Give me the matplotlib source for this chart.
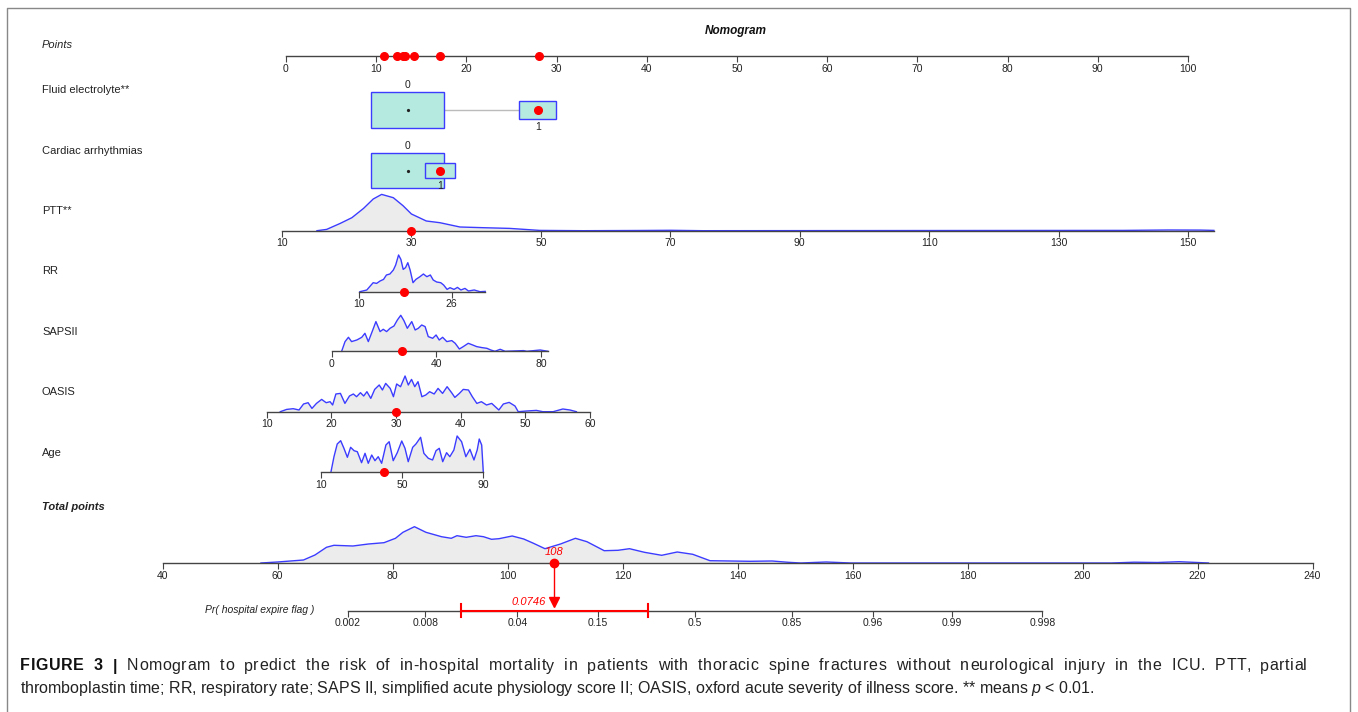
import numpy as np
import matplotlib.pyplot as plt
from matplotlib.patches import Rectangle
from matplotlib.ticker import NullLocator

plt.rcParams['font.family'] = ['Liberation Sans', 'DejaVu Sans']
plt.rcParams['mathtext.fontset'] = 'custom'
plt.rcParams['mathtext.it'] = 'Liberation Sans:italic'
plt.rcParams['mathtext.rm'] = 'Liberation Sans'

W, H = 1358, 712

# ---------------- data ----------------
points_ticks = list(range(0, 101, 10))
# points of the example patient: Age, OASIS, SAPSII, RR, PTT, Cardiac, Fluid
patient_points = [10.9, 12.3, 13.0, 13.2, 14.2, 17.1, 28.0]

fluid_levels = ['0', '1']
fluid_pts = [13.5, 27.9]
fluid_freq = [0.80, 0.20]

cardiac_levels = ['0', '1']
cardiac_pts = [13.5, 17.1]
cardiac_freq = [0.857, 0.143]

ptt_ticks = [10, 30, 50, 70, 90, 110, 130, 150]
ptt_x = [15.4, 16.9, 19.0, 20.8, 22.6, 24.1, 25.4, 27.2, 28.7, 30.0, 32.3, 34.4,
         37.5, 41.1, 45.2, 49.8, 56.5, 65, 70, 75, 140, 147, 152, 154]
ptt_d = [0, 1.3, 7.3, 13, 22.3, 31.7, 36.3, 33, 25, 16.7, 9.7, 8,
         3.7, 3, 2.3, 0.3, 0, 0.2, 0.4, 0, 0.3, 0.7, 0.6, 0.3]
ptt_value = 30

rr_ticks = [10, 26]
rr_x = [10.1, 11.3, 11.9, 12.4, 13.0, 13.6, 14.2, 14.7, 15.3, 15.9, 16.3, 16.8,
        17.2, 17.6, 18.0, 18.4, 18.8, 19.3, 19.8, 20.5, 21.1, 21.7, 22.3, 22.8,
        23.4, 24.1, 24.6, 25.2, 25.7, 26.4, 27.0, 27.6, 28.3, 28.9, 29.9, 30.9, 31.8]
rr_d = [0, 1.7, 5.7, 9, 8.3, 10.7, 12.3, 16.7, 17.7, 21.7, 26.7, 36.7,
        32.3, 22.3, 24, 29, 21.7, 9, 12.3, 15, 17.7, 15, 16.7, 11.7,
        9.7, 9, 6.7, 2.3, 4, 2.3, 4.3, 1.7, 3.3, 0.7, 1.7, 0, 0.3]
rr_value = 17.8

saps_ticks = [0, 40, 80]
saps_x = [3.8, 5.1, 6.4, 7.6, 9.6, 11.5, 12.7, 14.0, 15.7, 16.9, 18.5, 19.7, 21.0,
          22.3, 23.8, 25.1, 26.4, 27.6, 28.9, 30.6, 31.9, 33.1, 34.4, 35.7, 36.9,
          38.6, 39.9, 41.1, 42.4, 44.0, 45.9, 47.2, 48.8, 50.3, 52.2, 53.9, 55.4,
          57.4, 59.3, 60.8, 62.4, 64.4, 66.3, 73.3, 74.6, 79.7, 82.6]
saps_d = [0, 9.7, 14, 9.7, 11.3, 14, 18, 9.7, 21.3, 29.7, 19.7, 22, 19.7,
          23, 25.3, 31.3, 36, 30.7, 23, 29.7, 21.3, 23, 26.3, 24.7, 14.7,
          13, 16.3, 11.3, 14, 9.7, 10.7, 8, 2.3, 4.7, 8, 6.3, 4.7,
          3.7, 3, 1.3, 0, 2, 0, 0.7, 0, 1.3, 0]
saps_value = 26.9

oasis_ticks = [10, 20, 30, 40, 50, 60]
oasis_x = [12.1, 13.1, 14.1, 15.0, 15.7, 16.4, 17.0, 17.7, 18.5, 19.2, 19.8, 20.2,
           20.7, 21.4, 22.1, 22.8, 23.4, 23.9, 24.5, 25.0, 25.5, 26.1, 26.7, 27.4,
           27.9, 28.4, 29.1, 29.6, 30.1, 30.7, 31.4, 31.9, 32.4, 32.9, 33.4, 34.0,
           34.6, 35.2, 35.9, 36.5, 37.2, 37.9, 38.6, 39.1, 39.8, 40.4, 41.2, 41.8,
           42.5, 43.2, 44.0, 44.8, 45.9, 46.6, 47.5, 48.4, 48.9, 50.2, 51.7, 52.7,
           54.3, 55.8, 56.9, 57.9]
oasis_d = [0, 2.3, 3, 1.7, 7.7, 9, 3.3, 8.3, 12.3, 9, 10, 6.7,
           17.7, 18.3, 8.3, 15.7, 17.7, 15, 19, 15.7, 20, 13.3, 22.3, 26.7,
           21.7, 28.3, 23.3, 15, 27.7, 25, 35.7, 26.7, 32.3, 25, 30, 15,
           16.7, 20, 17.7, 23.3, 18.3, 25, 19, 14.3, 18.3, 22.3, 21.7, 15,
           8.3, 10, 6.7, 8.3, 1.7, 7.7, 9.3, 5.7, 0, 0.7, 1.3, 0,
           0, 2.7, 1.7, 0]
oasis_value = 30

age_ticks = [10, 50, 90]
age_x = [14.9, 16.4, 18.0, 19.7, 21.3, 23.0, 24.6, 26.3, 27.9, 30.0, 31.7, 33.3,
         35.0, 36.6, 38.2, 39.9, 42.0, 43.6, 45.6, 47.6, 49.8, 51.4, 53.0, 55.2,
         56.8, 59.1, 60.7, 62.9, 65.0, 66.7, 68.3, 70.0, 71.9, 73.5, 75.5, 77.1,
         79.3, 81.4, 83.4, 85.4, 87.0, 88.0, 89.2, 90.0]
age_d = [0, 15.3, 28, 31.3, 23.7, 14.7, 24.7, 21.3, 20.3, 9.3, 18.7, 8.7,
         17, 11.3, 15.3, 8.7, 27, 30.3, 11.3, 19.3, 31, 23.7, 10.3, 24.7,
         28, 34.7, 18.7, 13.7, 12, 21.3, 23.7, 10.3, 19.3, 15.3, 22, 36,
         30.3, 15.3, 22.7, 12, 22, 33, 27, 0]
age_value = 41

total_ticks = list(range(40, 241, 20))
total_x = [57.1, 60, 64.5, 66.5, 68.5, 69.8, 73.1, 75.8, 78.5, 80.5, 81.8, 83.8,
           85.8, 88.5, 90.2, 91.2, 92.8, 94.5, 95.8, 97.2, 98.5, 100.8, 102.8, 104.5,
           106.5, 109.2, 111.8, 113.8, 116.8, 119.2, 121.2, 123.8, 126.8, 129.5, 132.2,
           135.2, 142.2, 146.0, 148.8, 151.0, 155.4, 159.7, 205.0, 209.0, 213.0,
           216.8, 221.9]
total_d = [0, 1, 3, 8, 15.7, 17.7, 17, 19, 20.3, 24.7, 30.7, 36.3,
           30.7, 26.3, 24.7, 27.3, 25.7, 27.3, 26.3, 23.7, 24.3, 27, 24, 19.7,
           14.3, 19, 24.7, 21.3, 12.3, 12.7, 14.3, 10.7, 7.7, 11, 8.7,
           2.3, 1.7, 2.0, 0.7, 0, 1, 0, 0, 0.8, 0.5,
           1.3, 0]
total_value = 108

pr_ticks = [0.002, 0.008, 0.04, 0.15, 0.5, 0.85, 0.96, 0.99, 0.998]
pr_labels = ['0.002', '0.008', '0.04', '0.15', '0.5', '0.85', '0.96', '0.99', '0.998']
pr_value = 0.0746
pr_ci = [0.0151, 0.301]

caption_head = 'FIGURE 3 |'
caption_1 = ('Nomogram to predict the risk of in-hospital mortality in patients with '
             'thoracic spine fractures without neurological injury in the ICU. PTT, partial')
caption_2 = ('thromboplastin time; RR, respiratory rate; SAPS II, simplified acute '
             'physiology score II; OASIS, oxford acute severity of illness score. '
             '** means $p$ < 0.01.')

# ---------------- styling ----------------
LINE = '#444444'
BLUE = '#3c3cff'
FILL = '#ececec'
BOXFILL = '#b4eadf'
RED = '#ff0000'

fig = plt.figure(figsize=(W / 100, H / 100), dpi=100)


def logit(p):
    return np.log(p / (1 - p))


def row_axes(base, up, down, va, pa, vb, pb, log=False):
    """Full-width axes whose x scale puts value va at pixel pa and vb at pb."""
    ax = fig.add_axes([0, (H - base - down) / H, 1, (up + down) / H])
    ax.patch.set_visible(False)
    if log:
        la, lb = logit(va), logit(vb)
        k = (lb - la) / (pb - pa)
        lo, hi = la - pa * k, la + (W - pa) * k
        ax.set_xscale('logit')
        ax.set_xlim(1 / (1 + np.exp(-lo)), 1 / (1 + np.exp(-hi)))
    else:
        k = (vb - va) / (pb - pa)
        ax.set_xlim(va - pa * k, va + (W - pa) * k)
    ax.set_ylim(-down, up)
    for s in ['top', 'left', 'right']:
        ax.spines[s].set_visible(False)
    ax.spines['bottom'].set_position(('data', 0))
    ax.spines['bottom'].set_color(LINE)
    ax.spines['bottom'].set_linewidth(1)
    ax.spines['bottom'].set_zorder(3)
    ax.set_yticks([])
    ax.tick_params(axis='x', length=4, width=0.8, color=LINE, labelsize=7.5,
                   pad=1.5, labelcolor='#222222')
    return ax


def scale_row(ax, ticks, lo, hi, labels=None):
    ax.spines['bottom'].set_bounds(lo, hi)
    ax.set_xticks(ticks)
    if labels is not None:
        ax.set_xticklabels(labels)
    ax.xaxis.set_minor_locator(NullLocator())


def density(ax, x, d, val=None):
    ax.fill_between(x, 0, d, color=FILL, lw=0, zorder=1)
    ax.plot(x, d, color=BLUE, lw=1, zorder=2)
    if val is not None:
        ax.plot(val, 0, 'o', color=RED, ms=5.5, clip_on=False, zorder=5)


# ---------------- Points ----------------
ax_pts = row_axes(56, 20, 5, 0, 286, 100, 1188)
scale_row(ax_pts, points_ticks, 0, 100)
ax_pts.plot(patient_points, [0] * len(patient_points), 'o', color=RED, ms=5.5,
            clip_on=False, zorder=5)


# ---------------- categorical rows ----------------
def cat_row(center, pts, freq, levels):
    ax = row_axes(center, 30, 30, 0, 286, 100, 1188)
    ax.axis('off')
    fmax = max(freq)
    halfw = [4.03 * np.sqrt(f / fmax) for f in freq]
    halfh = [17.9 * np.sqrt(f / fmax) for f in freq]
    if pts[1] - halfw[1] > pts[0] + halfw[0]:
        ax.plot([pts[0] + halfw[0], pts[1] - halfw[1]], [0, 0], color='#bbbbbb',
                lw=1, zorder=1)
    for i in range(len(pts)):
        ax.add_patch(Rectangle((pts[i] - halfw[i], -halfh[i]), 2 * halfw[i],
                               2 * halfh[i], facecolor=BOXFILL, edgecolor=BLUE,
                               lw=1, zorder=2 + i))
    ax.plot(pts[0], 0, 'o', color='#222222', ms=1.3, zorder=4)
    ax.plot(pts[1], 0, 'o', color=RED, ms=5.5, zorder=5)
    ax.text(pts[0], halfh[0] + 7, levels[0], ha='center', va='center',
            fontsize=7.5, color='#222222', zorder=6)
    ax.text(pts[1], -halfh[1] - 8, levels[1], ha='center', va='center',
            fontsize=7.5, color='#222222', zorder=6)
    return ax


cat_row(110, fluid_pts, fluid_freq, fluid_levels)
cat_row(170.5, cardiac_pts, cardiac_freq, cardiac_levels)

# ---------------- continuous rows ----------------
ax = row_axes(230.7, 45, 5, 10, 282, 150, 1188)
scale_row(ax, ptt_ticks, 10, 154)
density(ax, ptt_x, ptt_d, ptt_value)

ax = row_axes(291.7, 45, 5, 10, 359.3, 26, 451.7)
scale_row(ax, rr_ticks, 10, 31.8)
density(ax, rr_x, rr_d, rr_value)

ax = row_axes(351.3, 45, 5, 0, 331.7, 80, 541)
scale_row(ax, saps_ticks, 0, 82.6)
density(ax, saps_x, saps_d, saps_value)

ax = row_axes(411.7, 45, 5, 10, 266.7, 60, 590)
scale_row(ax, oasis_ticks, 10, 60)
density(ax, oasis_x, oasis_d, oasis_value)

ax = row_axes(472, 45, 5, 10, 321, 90, 483.3)
scale_row(ax, age_ticks, 10, 90)
density(ax, age_x, age_d, age_value)

# ---------------- Total points ----------------
ax_tot = row_axes(563, 45, 5, 40, 162.6, 240, 1312.6)
scale_row(ax_tot, total_ticks, 40, 240)
density(ax_tot, total_x, total_d)
ax_tot.plot(total_value, 0, 'o', color=RED, ms=6, clip_on=False, zorder=5)
ax_tot.text(total_value, 11, str(total_value), color=RED, style='italic',
            fontsize=8, ha='center', va='center')

# ---------------- Probability ----------------
ax_pr = row_axes(610.7, 50, 10, 0.5, 695, 0.85, 792, log=True)
scale_row(ax_pr, pr_ticks, pr_ticks[0], pr_ticks[-1], pr_labels)
ax_pr.plot(pr_ci, [0, 0], color=RED, lw=1.5, zorder=4)
for c in pr_ci:
    ax_pr.plot([c, c], [-6.5, 6.5], color=RED, lw=1.5, zorder=4)
ax_pr.plot([pr_value, pr_value], [9, 47.7], color=RED, lw=1, clip_on=False, zorder=4)
ax_pr.plot(pr_value, 8.5, 'v', color=RED, ms=7, clip_on=False, zorder=5)
ax_pr.annotate(str(pr_value), xy=(pr_value, 9), xytext=(-8, 0),
               textcoords='offset pixels', ha='right', va='center',
               color=RED, style='italic', fontsize=8)


# ---------------- labels ----------------
def label(y, s, **kw):
    fig.text(42 / W, 1 - y / H, s, ha='left', va='center', fontsize=8,
             color='#222222', **kw)


fig.text(736 / W, 1 - 31 / H, 'Nomogram', ha='center', va='center', fontsize=8.5,
         style='italic', weight='bold', color='#111111')
label(45, 'Points', style='italic')
label(90, 'Fluid electrolyte**')
label(151, 'Cardiac arrhythmias')
label(211, 'PTT**')
label(271, 'RR')
label(332, 'SAPSII')
label(392, 'OASIS')
label(453, 'Age')
label(507, 'Total points', style='italic', weight='bold')
fig.text(260 / W, 1 - 610 / H, 'Pr( hospital expire flag )', ha='center',
         va='center', fontsize=7.5, style='italic', color='#222222')

# ---------------- frame and caption ----------------
frame = fig.add_axes([0, 0, 1, 1])
frame.set_xlim(0, W)
frame.set_ylim(H, 0)
frame.axis('off')
frame.patch.set_visible(False)
frame.plot([7, 7, 1350, 1350], [H, 8, 8, H], color='#888888', lw=1)

renderer = fig.canvas.get_renderer()
CAP = 11.5


def text_w(s, weight='normal'):
    t = frame.text(0, 0, s, fontsize=CAP, weight=weight)
    w = t.get_window_extent(renderer).width
    t.remove()
    return w


# first caption line is justified to span x=20..1307: the extra room is split
# between word spacing and a little letter spacing
words = [(w, 'bold', '#111111') for w in caption_head.split()]
words += [(w, 'normal', '#222222') for w in caption_1.split()]
space_w = text_w('a a') - text_w('aa')
word_w = [text_w(w, wt) for w, wt, _ in words]
n_chars = sum(len(w) for w, _, _ in words) + len(words) - 1
extra = 1307 - 20 - sum(word_w) - space_w * (len(words) - 1)
track = 0.5 * extra / (n_chars - 1)
word_gap = 0.5 * extra / (len(words) - 1)
x = 20
for (w, wt, col), ww in zip(words, word_w):
    for i, ch in enumerate(w):
        off = text_w(w[:i], wt) if i else 0
        frame.text(x + off + i * track, 666, ch, fontsize=CAP, weight=wt,
                   color=col, ha='left', va='center')
    x += ww + len(w) * track + space_w + track + word_gap

frame.text(20, 689, caption_2, fontsize=CAP, ha='left', va='center',
           color='#222222')

fig.savefig('out.png', dpi=100)
